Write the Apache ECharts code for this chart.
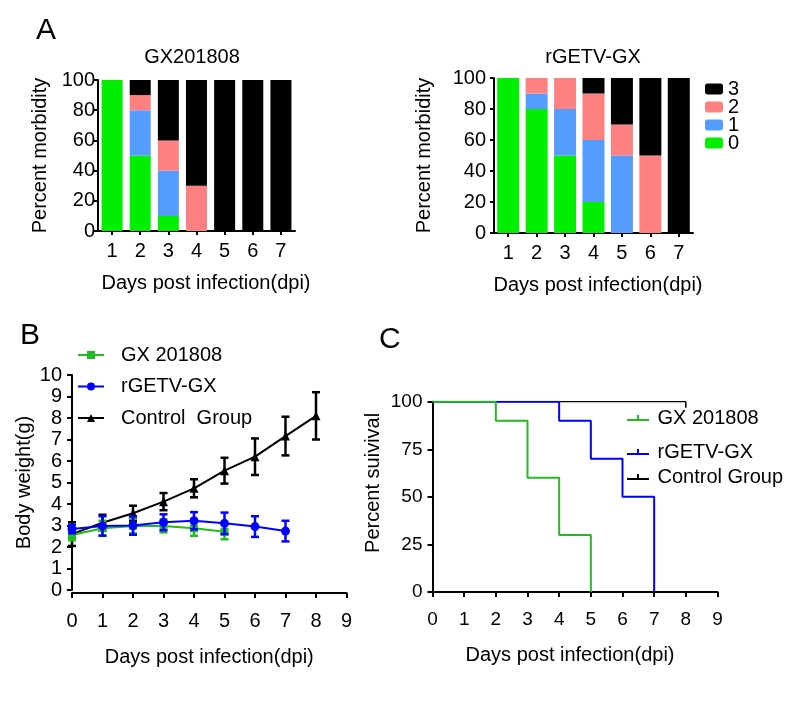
<!DOCTYPE html>
<html>
<head>
<meta charset="utf-8">
<script src="https://cdn.jsdelivr.net/npm/echarts@6/dist/echarts.min.js"></script>
<style>html,body{margin:0;padding:0;background:#fff;}#c{width:787px;height:712px;}</style>
</head>
<body>
<div id="c"></div>
<script>
// ---- Panel A: morbidity scores (percent) ----
const dayCats = ['1','2','3','4','5','6','7'];
const scoreNames = ['0','1','2','3'];
const gxScore0 = [100, 50, 10, 0, 0, 0, 0];
const gxScore1 = [0, 30, 30, 0, 0, 0, 0];
const gxScore2 = [0, 10, 20, 30, 0, 0, 0];
const gxScore3 = [0, 10, 40, 70, 100, 100, 100];
const rgScore0 = [100, 80, 50, 20, 0, 0, 0];
const rgScore1 = [0, 10, 30, 40, 50, 0, 0];
const rgScore2 = [0, 10, 20, 30, 20, 50, 0];
const rgScore3 = [0, 0, 0, 10, 30, 50, 100];

// ---- Panel B: body weight (g) ----
const wDays = [0, 1, 2, 3, 4, 5, 6, 7, 8];
const wGX = [2.56, 2.87, 2.98, 2.98, 2.87, 2.71];
const wGXErr = [0.25, 0.35, 0.35, 0.3, 0.35, 0.35];
const wRG = [2.84, 2.98, 3.0, 3.15, 3.22, 3.1, 2.95, 2.74];
const wRGErr = [0.2, 0.45, 0.43, 0.37, 0.4, 0.5, 0.48, 0.48];
const wCtrl = [2.6, 3.13, 3.57, 4.11, 4.73, 5.55, 6.2, 7.16, 8.1];
const wCtrlErr = [0.55, 0.37, 0.35, 0.4, 0.42, 0.6, 0.85, 0.9, 1.1];

// ---- Panel C: survival (%) ----
const svDaysGX = [0, 2, 3, 4, 5];
const svGX = [100, 90, 60, 30, 0];
const svDaysRG = [0, 4, 5, 6, 7];
const svRG = [100, 90, 70, 50, 0];
const svDaysCtrl = [0, 8];
const svCtrl = [100, 100];

const FONT = 'Liberation Sans, Arial, sans-serif';
const cGreenA = '#00ee00', cBlueA = '#559cff', cPinkA = '#ff8080', cBlack = '#000000';
const cGreen = '#22bb22', cBlue = '#0000ff';

function axisCommon(tickLen, labelMargin, fs) {
  return {
    axisLine: {show: true, onZero: false, lineStyle: {color: '#000', width: 2}},
    axisTick: {show: true, length: tickLen, lineStyle: {color: '#000', width: 2}},
    axisLabel: {color: '#000', fontSize: fs || 20, margin: labelMargin, fontFamily: FONT},
    splitLine: {show: false},
    nameTextStyle: {color: '#000', fontSize: 20, fontFamily: FONT}
  };
}

function errRender(color) {
  return function (params, api) {
    const x = api.value(0), lo = api.value(1), hi = api.value(2);
    const p1 = api.coord([x, hi]), p2 = api.coord([x, lo]);
    const w = 4;
    const st = {stroke: color, lineWidth: 2.5};
    return {type: 'group', children: [
      {type: 'line', shape: {x1: p1[0], y1: p1[1], x2: p2[0], y2: p2[1]}, style: st},
      {type: 'line', shape: {x1: p1[0] - w, y1: p1[1], x2: p1[0] + w, y2: p1[1]}, style: st},
      {type: 'line', shape: {x1: p2[0] - w, y1: p2[1], x2: p2[0] + w, y2: p2[1]}, style: st}
    ]};
  };
}

const tPath = 'path://M0,6 L10,6 L10,2 L12,2 L12,6 L22,6 L22,8 L0,8 Z';

const xA1 = Object.assign(axisCommon(4, 10), {
  type: 'category', gridIndex: 0, data: dayCats,
  name: 'Days post infection(dpi)', nameLocation: 'middle', nameGap: 42
});
xA1.axisTick.alignWithLabel = true;
xA1.nameTextStyle.padding = [0, 0, 0, 19];
const xA2 = Object.assign(axisCommon(4, 10), {
  type: 'category', gridIndex: 1, data: dayCats,
  name: 'Days post infection(dpi)', nameLocation: 'middle', nameGap: 42
});
xA2.axisTick.alignWithLabel = true;
xA2.nameTextStyle.padding = [0, 0, 0, 9];
const yA1 = Object.assign(axisCommon(4, 3), {
  type: 'value', gridIndex: 0, min: 0, max: 100, interval: 20,
  name: 'Percent morbidity', nameLocation: 'middle', nameGap: 48
});
const yA2 = Object.assign(axisCommon(4, 8), {
  type: 'value', gridIndex: 1, min: 0, max: 100, interval: 20,
  name: 'Percent morbidity', nameLocation: 'middle', nameGap: 60
});
const xB = Object.assign(axisCommon(5, 18), {
  type: 'value', gridIndex: 2, min: 0, max: 9, interval: 1, offset: 3,
  name: 'Days post infection(dpi)', nameLocation: 'middle', nameGap: 54
});
const yB = Object.assign(axisCommon(5, 10), {
  type: 'value', gridIndex: 2, min: 0, max: 10, interval: 1,
  name: 'Body weight(g)', nameLocation: 'middle', nameGap: 38
});
const xC = Object.assign(axisCommon(5, 18, 19), {
  type: 'value', gridIndex: 3, min: 0, max: 9, interval: 1,
  name: 'Days post infection(dpi)', nameLocation: 'middle', nameGap: 53
});
xC.nameTextStyle.padding = [0, 10, 0, 0];
const yC = Object.assign(axisCommon(5, 10, 19), {
  type: 'value', gridIndex: 3, min: 0, max: 100, interval: 25,
  name: 'Percent suivival', nameLocation: 'middle', nameGap: 49
});
yC.nameTextStyle.padding = [0, 0, 0, 28];

function barSeries(name, data, color, xi, stack, bw) {
  return {type: 'bar', name: name, data: data, stack: stack, xAxisIndex: xi, yAxisIndex: xi,
    barWidth: bw, itemStyle: {color: color}, z: 2};
}

const ctrlSurv = svDaysCtrl.map((d, i) => i === svDaysCtrl.length - 1
  ? {value: [d, svCtrl[i]], symbol: 'rect', symbolSize: [1.5, 6], symbolOffset: [0, 3]}
  : {value: [d, svCtrl[i]], symbol: 'none'});

const option = {
  animation: false,
  backgroundColor: '#fff',
  textStyle: {fontFamily: FONT},
  title: [
    {text: 'A', left: 31, top: 11, textStyle: {fontSize: 30, fontWeight: 'normal', color: '#000', fontFamily: FONT}},
    {text: 'B', left: 15, top: 316, textStyle: {fontSize: 30, fontWeight: 'normal', color: '#000', fontFamily: FONT}},
    {text: 'C', left: 374, top: 320, textStyle: {fontSize: 30, fontWeight: 'normal', color: '#000', fontFamily: FONT}},
    {text: 'GX201808', left: 192, textAlign: 'center', top: 47, padding: 0, textStyle: {fontSize: 20, fontWeight: 'normal', color: '#000', fontFamily: FONT}},
    {text: 'rGETV-GX', left: 593, textAlign: 'center', top: 47, padding: 0, textStyle: {fontSize: 20, fontWeight: 'normal', color: '#000', fontFamily: FONT}}
  ],
  legend: [
    {data: ['3', '2', '1', '0'], orient: 'vertical', left: 705, top: 79, padding: 0,
      itemWidth: 18, itemHeight: 11, itemGap: -2, icon: 'roundRect',
      textStyle: {fontSize: 20, color: '#000', fontFamily: FONT}},
    {data: ['GX 201808', 'rGETV-GX', 'Control  Group'], orient: 'vertical', left: 77, top: 345, padding: 0,
      itemWidth: 26, itemHeight: 10, itemGap: 11.5,
      textStyle: {fontSize: 20, color: '#000', fontFamily: FONT, padding: [0, 0, 0, 12]}},
    {data: [{name: 'GX 201808', icon: tPath}], left: 627, top: 408, padding: 0, itemWidth: 23, itemHeight: 6,
      textStyle: {fontSize: 20, color: '#000', fontFamily: FONT, padding: [0, 0, 0, 3]}},
    {data: [{name: 'rGETV-GX', icon: tPath}], left: 627, top: 442, padding: 0, itemWidth: 23, itemHeight: 6,
      textStyle: {fontSize: 20, color: '#000', fontFamily: FONT, padding: [0, 0, 0, 3]}},
    {data: [{name: 'Control Group', icon: tPath}], left: 627, top: 467, padding: 0, itemWidth: 23, itemHeight: 6,
      textStyle: {fontSize: 20, color: '#000', fontFamily: FONT, padding: [0, 0, 0, 3]}}
  ],
  grid: [
    {left: 98, top: 80, width: 197, height: 151, containLabel: false},
    {left: 494, top: 78, width: 199, height: 155, containLabel: false},
    {left: 72, top: 375, width: 274.5, height: 215, containLabel: false},
    {left: 432.5, top: 401.7, width: 285, height: 190.3, containLabel: false}
  ],
  xAxis: [xA1, xA2, xB, xC],
  yAxis: [yA1, yA2, yB, yC],
  series: [
    barSeries('0', gxScore0, cGreenA, 0, 'L', 21),
    barSeries('1', gxScore1, cBlueA, 0, 'L', 21),
    barSeries('2', gxScore2, cPinkA, 0, 'L', 21),
    barSeries('3', gxScore3, cBlack, 0, 'L', 21),
    barSeries('0', rgScore0, cGreenA, 1, 'R', 22),
    barSeries('1', rgScore1, cBlueA, 1, 'R', 22),
    barSeries('2', rgScore2, cPinkA, 1, 'R', 22),
    barSeries('3', rgScore3, cBlack, 1, 'R', 22),
    // Panel B
    {type: 'line', name: 'Control  Group', xAxisIndex: 2, yAxisIndex: 2,
      data: wDays.map((d, i) => [d, wCtrl[i]]), symbol: 'triangle', symbolSize: 9,
      itemStyle: {color: cBlack}, lineStyle: {color: cBlack, width: 2}, z: 3},
    {type: 'custom', xAxisIndex: 2, yAxisIndex: 2, renderItem: errRender(cBlack),
      data: wDays.map((d, i) => [d, wCtrl[i] - wCtrlErr[i], wCtrl[i] + wCtrlErr[i]]), z: 3},
    {type: 'line', name: 'GX 201808', xAxisIndex: 2, yAxisIndex: 2,
      data: wGX.map((v, i) => [wDays[i], v]), symbol: 'rect', symbolSize: 8,
      itemStyle: {color: cGreen}, lineStyle: {color: cGreen, width: 2}, z: 4},
    {type: 'custom', xAxisIndex: 2, yAxisIndex: 2, renderItem: errRender(cGreen),
      data: wGX.map((v, i) => [wDays[i], v - wGXErr[i], v + wGXErr[i]]), z: 4},
    {type: 'line', name: 'rGETV-GX', xAxisIndex: 2, yAxisIndex: 2,
      data: wRG.map((v, i) => [wDays[i], v]), symbol: 'circle', symbolSize: 9,
      itemStyle: {color: cBlue}, lineStyle: {color: cBlue, width: 2}, z: 5},
    {type: 'custom', xAxisIndex: 2, yAxisIndex: 2, renderItem: errRender(cBlue),
      data: wRG.map((v, i) => [wDays[i], v - wRGErr[i], v + wRGErr[i]]), z: 5},
    // Panel C
    {type: 'line', name: 'Control Group', xAxisIndex: 3, yAxisIndex: 3, step: 'end',
      data: ctrlSurv, showSymbol: true, symbol: 'none',
      itemStyle: {color: cBlack}, lineStyle: {color: cBlack, width: 1.2}, z: 3},
    {type: 'line', name: 'rGETV-GX', xAxisIndex: 3, yAxisIndex: 3, step: 'end',
      data: svDaysRG.map((d, i) => [d, svRG[i]]), symbol: 'none',
      itemStyle: {color: cBlue}, lineStyle: {color: cBlue, width: 2}, z: 4},
    {type: 'line', name: 'GX 201808', xAxisIndex: 3, yAxisIndex: 3, step: 'end',
      data: svDaysGX.map((d, i) => [d, svGX[i]]), symbol: 'none',
      itemStyle: {color: cGreen}, lineStyle: {color: cGreen, width: 2}, z: 5}
  ]
};

const chart = echarts.init(document.getElementById('c'), null, {renderer: 'canvas'});
chart.setOption(option);
</script>
</body>
</html>
